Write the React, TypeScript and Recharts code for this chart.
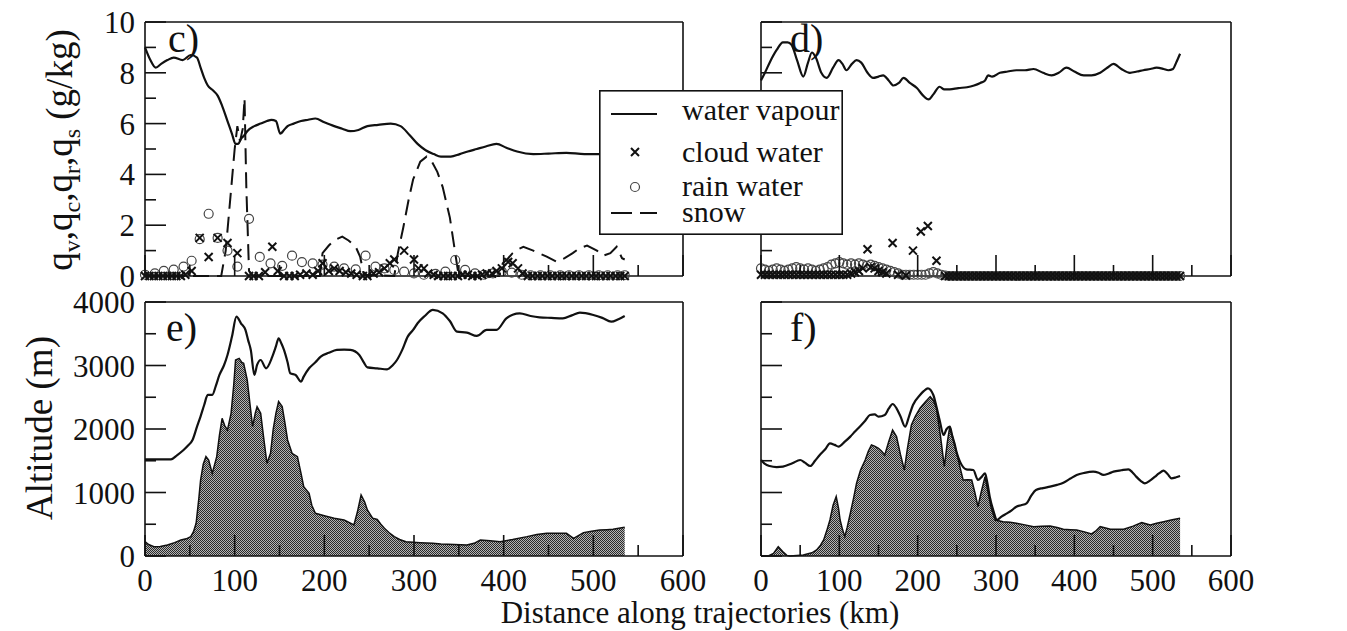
import React from 'react';
import { ComposedChart, Line, Area, Scatter, XAxis, YAxis, Legend } from 'recharts';

const INK = '#111';
const SERIF = '"Liberation Serif", "Times New Roman", Times, serif';

// tick values
const X_TICKS = [0, 50, 100, 150, 200, 250, 300, 350, 400, 450, 500, 550, 600];
const Q_TICKS = [0, 1, 2, 3, 4, 5, 6, 7, 8, 9, 10];
const ALT_TICKS = [0, 500, 1000, 1500, 2000, 2500, 3000, 3500, 4000];

// panel c) mixing ratios, [km, g/kg]
const vapourC = [
  [0, 9.0], [6, 8.5], [12, 8.2], [18, 8.35], [25, 8.5], [32, 8.6], [42, 8.5], [51, 8.7], [58, 8.6],
  [62, 8.2], [66, 7.8], [70, 7.5], [76, 7.3], [81, 7.1], [86, 6.7], [92, 6.1], [97, 5.6], [101, 5.2],
  [104, 5.2], [107, 5.4], [111, 5.55], [114, 5.7], [122, 5.9], [129, 6.0], [136, 6.1], [141, 6.15],
  [146, 6.1], [151, 5.6], [155, 5.75], [159, 5.9], [166, 6.0], [174, 6.1], [182, 6.15], [190, 6.2],
  [200, 6.05], [211, 5.9], [220, 5.8], [229, 5.7], [238, 5.75], [248, 5.9], [260, 5.95], [274, 6.0],
  [285, 5.9], [295, 5.55], [304, 5.2], [313, 4.95], [322, 4.8], [330, 4.7], [341, 4.7], [351, 4.8],
  [360, 4.9], [370, 5.0], [380, 5.1], [392, 5.2], [403, 5.05], [415, 4.9], [433, 4.8], [450, 4.82],
  [470, 4.85], [490, 4.8], [504, 4.8], [520, 4.8], [535, 4.75],
];
const snowC = [
  [0, 0], [85, 0], [90, 1], [95, 3], [100, 5], [103, 5.9], [106, 5.3], [109, 5.8], [111, 7], [113, 3.5],
  [116, 0.2], [120, 0], [195, 0], [198, 0.9], [205, 1.2], [211, 1.4], [220, 1.55], [227, 1.4],
  [235, 1.15], [240, 0.75], [244, 0.05], [278, 0], [282, 0.9], [288, 1.9], [294, 3.0], [299, 3.8],
  [307, 4.5], [314, 4.7], [320, 4.5], [326, 4.1], [332, 3.5], [340, 2.3], [346, 0.9], [349, 0.2],
  [352, 0], [395, 0], [399, 0.5], [405, 0.7], [410, 0.9], [416, 1.05], [422, 1.15], [433, 1.0],
  [448, 0.76], [459, 0.56], [468, 0.7], [477, 0.9], [485, 1.1], [493, 1.2], [504, 1.0], [511, 0.8],
  [519, 0.9], [526, 1.15], [532, 0.7], [535, 0.65],
];
const cloudC = [
  [0, 0], [5, 0], [10, 0], [15, 0], [20, 0], [25, 0], [30, 0], [35, 0], [40, 0], [45, 0.05], [52, 0.2],
  [61, 1.5], [71, 0.75], [81, 1.5], [92, 1.3], [103, 0.9], [116, 0], [121, 0], [127, 0], [134, 0.15],
  [142, 1.15], [148, 0.2], [155, 0], [161, 0], [167, 0], [173, 0.05], [180, 0.1], [187, 0.05],
  [193, 0.2], [198, 0.5], [205, 0.2], [211, 0.3], [217, 0.2], [224, 0.15], [230, 0.1], [236, 0.05],
  [243, 0], [248, 0], [255, 0.1], [261, 0.15], [267, 0.3], [273, 0.5], [278, 0.65], [289, 1.0],
  [300, 0.65], [305, 0.3], [311, 0.3], [316, 0.1], [322, 0.05], [327, 0], [333, 0], [338, 0], [343, 0],
  [349, 0], [354, 0.05], [360, 0.05], [365, 0], [371, 0], [376, 0.05], [381, 0.1], [387, 0.1],
  [392, 0.2], [398, 0.3], [405, 0.55], [410, 0.5], [416, 0.3], [421, 0.1], [427, 0], [432, 0],
  [438, 0], [443, 0], [449, 0], [454, 0], [460, 0], [465, 0], [470, 0], [476, 0], [481, 0], [487, 0],
  [492, 0], [498, 0], [503, 0], [508, 0], [514, 0], [519, 0], [525, 0], [530, 0], [535, 0],
];
const rainC = [
  [0, 0.05], [11, 0.1], [21, 0.2], [32, 0.25], [43, 0.37], [52, 0.6], [61, 1.45], [71, 2.45], [81, 1.5],
  [92, 1.0], [103, 0.37], [116, 2.25], [128, 0.75], [140, 0.5], [153, 0.4], [164, 0.8], [175, 0.55],
  [187, 0.5], [198, 0.45], [211, 0.37], [222, 0.3], [235, 0.26], [246, 0.8], [257, 0.37], [267, 0.3],
  [278, 0.24], [289, 0.17], [300, 0.1], [311, 0.05], [324, 0.08], [335, 0.17], [346, 0.63],
  [357, 0.24], [368, 0.1], [378, 0.05], [388, 0.1], [398, 0.17], [409, 0.13], [420, 0.05], [430, 0.03],
  [441, 0.03], [452, 0.03], [463, 0.03], [473, 0.03], [484, 0.03], [495, 0.03], [506, 0.03],
  [516, 0.03], [527, 0.03], [535, 0.03],
];

// panel d)
const vapourD = [
  [0, 7.7], [5, 8.0], [11, 8.4], [20, 8.9], [28, 9.2], [34, 9.2], [39, 9.1], [46, 8.5], [54, 7.85],
  [60, 8.4], [65, 8.8], [70, 8.6], [77, 8.0], [84, 7.8], [92, 8.2], [99, 8.5], [104, 8.35], [109, 8.1],
  [116, 8.35], [122, 8.5], [128, 8.4], [136, 8.0], [143, 7.8], [150, 7.85], [156, 7.9], [163, 7.7],
  [169, 7.5], [176, 7.6], [182, 7.8], [190, 7.6], [199, 7.4], [207, 7.1], [214, 6.95], [220, 7.15],
  [228, 7.45], [234, 7.35], [241, 7.35], [252, 7.4], [263, 7.43], [272, 7.5], [280, 7.6], [286, 7.7],
  [290, 7.9], [295, 7.85], [305, 8.0], [315, 8.05], [326, 8.1], [337, 8.1], [348, 8.15], [360, 8.0],
  [371, 7.9], [380, 8.0], [390, 8.2], [400, 8.05], [412, 7.9], [422, 7.9], [433, 8.0], [442, 8.2],
  [450, 8.35], [460, 8.15], [471, 8.0], [480, 8.05], [488, 8.1], [497, 8.15], [505, 8.2], [514, 8.15],
  [520, 8.1], [526, 8.15], [530, 8.4], [535, 8.75],
];
const cloudD = [
  [0, 0.05], [5, 0.05], [10, 0.05], [15, 0.05], [20, 0.05], [25, 0.05], [30, 0.05], [35, 0.05],
  [40, 0.05], [45, 0.05], [50, 0.05], [55, 0.05], [60, 0.05], [65, 0.05], [70, 0.05], [75, 0.05],
  [80, 0.05], [85, 0.05], [90, 0.05], [95, 0.05], [100, 0.05], [105, 0.05], [110, 0.05], [115, 0.1],
  [120, 0.15], [125, 0.2], [130, 0.3], [136, 1.05], [140, 0.35], [145, 0.3], [150, 0.2], [155, 0.15],
  [160, 0.1], [168, 1.3], [175, 0.05], [185, 0.02], [194, 1.0], [204, 1.75], [213, 1.97], [224, 0.6],
  [235, 0], [240, 0], [245, 0], [250, 0], [255, 0], [260, 0], [265, 0], [270, 0], [275, 0], [280, 0],
  [285, 0], [290, 0], [295, 0], [300, 0], [305, 0], [310, 0], [315, 0], [320, 0], [325, 0], [330, 0],
  [335, 0], [340, 0], [345, 0], [350, 0], [355, 0], [360, 0], [365, 0], [370, 0], [375, 0], [380, 0],
  [385, 0], [390, 0], [395, 0], [400, 0], [405, 0], [410, 0], [415, 0], [420, 0], [425, 0], [430, 0],
  [435, 0], [440, 0], [445, 0], [450, 0], [455, 0], [460, 0], [465, 0], [470, 0], [475, 0], [480, 0],
  [485, 0], [490, 0], [495, 0], [500, 0], [505, 0], [510, 0], [515, 0], [520, 0], [525, 0], [530, 0],
  [535, 0],
];
const rainD = [
  [0, 0.3], [5, 0.25], [10, 0.2], [15, 0.25], [20, 0.3], [25, 0.25], [30, 0.2], [35, 0.25], [40, 0.3],
  [45, 0.35], [50, 0.3], [55, 0.25], [60, 0.3], [65, 0.25], [70, 0.2], [75, 0.25], [80, 0.3],
  [85, 0.35], [90, 0.45], [95, 0.5], [100, 0.55], [105, 0.5], [110, 0.45], [115, 0.5], [120, 0.45],
  [125, 0.5], [130, 0.45], [135, 0.4], [140, 0.45], [145, 0.4], [150, 0.35], [155, 0.3], [160, 0.25],
  [165, 0.2], [170, 0.15], [175, 0.1], [180, 0.05], [185, 0.05], [190, 0.05], [195, 0.05], [200, 0.05],
  [205, 0.05], [210, 0.05], [215, 0.1], [220, 0.15], [225, 0.1], [230, 0.05], [235, 0.02], [240, 0],
  [245, 0], [250, 0], [255, 0], [260, 0], [265, 0], [270, 0], [275, 0], [280, 0], [285, 0], [290, 0],
  [295, 0], [300, 0], [305, 0], [310, 0], [315, 0], [320, 0], [325, 0], [330, 0], [335, 0], [340, 0],
  [345, 0], [350, 0], [355, 0], [360, 0], [365, 0], [370, 0], [375, 0], [380, 0], [385, 0], [390, 0],
  [395, 0], [400, 0], [405, 0], [410, 0], [415, 0], [420, 0], [425, 0], [430, 0], [435, 0], [440, 0],
  [445, 0], [450, 0], [455, 0], [460, 0], [465, 0], [470, 0], [475, 0], [480, 0], [485, 0], [490, 0],
  [495, 0], [500, 0], [505, 0], [510, 0], [515, 0], [520, 0], [525, 0], [530, 0], [535, 0],
];

// panel e) altitude, [km, m]
const trajE = [
  [0, 1522], [15, 1522], [29, 1522], [36, 1590], [43, 1670], [48, 1740], [53, 1827], [58, 2037],
  [62, 2200], [66, 2378], [70, 2536], [75, 2536], [79, 2680], [83, 2851], [88, 3000], [92, 3166],
  [97, 3455], [102, 3770], [107, 3665], [112, 3560], [115, 3400], [118, 3245], [122, 2851], [125, 3008],
  [129, 3087], [135, 2956], [142, 3140], [146, 3300], [149, 3428], [152, 3350], [155, 3245], [159, 3050],
  [162, 2877], [168, 2851], [174, 2746], [177, 2825], [183, 2956], [190, 3050], [196, 3140], [205, 3200],
  [214, 3245], [222, 3250], [229, 3245], [239, 3166], [244, 3050], [248, 2971], [259, 2956], [270, 2940],
  [276, 3000], [281, 3087], [287, 3250], [293, 3455], [299, 3560], [304, 3665], [312, 3780], [321, 3875],
  [332, 3822], [340, 3700], [348, 3533], [359, 3518], [370, 3465], [381, 3560], [392, 3560], [403, 3743],
  [410, 3800], [418, 3822], [430, 3780], [440, 3759], [453, 3750], [466, 3743], [476, 3790], [485, 3833],
  [500, 3796], [510, 3750], [520, 3690], [528, 3730], [535, 3780],
];
const terrainE = [
  [0, 226], [4, 180], [10, 147], [17, 150], [25, 173], [33, 210], [40, 252], [46, 270], [51, 305],
  [54, 380], [57, 515], [60, 900], [62, 1197], [65, 1450], [68, 1565], [71, 1512], [75, 1302], [80, 1565],
  [83, 1900], [86, 2168], [89, 2050], [92, 1985], [96, 2247], [99, 2700], [101, 3087], [105, 3113],
  [108, 3050], [110, 3035], [114, 2772], [117, 2400], [120, 2037], [123, 2250], [125, 2352], [129, 2247],
  [132, 1900], [136, 1460], [140, 1617], [143, 2000], [146, 2247], [149, 2431], [153, 2352], [156, 2100],
  [159, 1827], [164, 1617], [170, 1565], [174, 1300], [177, 1092], [183, 987], [186, 800], [190, 672],
  [201, 630], [211, 593], [222, 567], [233, 488], [237, 700], [241, 961], [245, 850], [248, 725],
  [254, 593], [259, 577], [263, 500], [267, 436], [272, 370], [278, 305], [284, 260], [291, 226],
  [307, 210], [321, 200], [330, 189], [345, 180], [359, 173], [367, 200], [374, 252], [385, 240],
  [396, 226], [410, 260], [426, 305], [437, 340], [448, 357], [460, 360], [470, 357], [478, 278],
  [489, 368], [498, 390], [507, 410], [515, 415], [522, 420], [530, 440], [535, 452],
];

// panel f)
const trajF = [
  [0, 1512], [5, 1450], [11, 1417], [20, 1400], [28, 1407], [40, 1460], [50, 1512], [56, 1470],
  [63, 1417], [69, 1500], [75, 1590], [82, 1680], [88, 1774], [94, 1750], [99, 1722], [107, 1800],
  [114, 1880], [120, 1960], [126, 2037], [133, 2130], [139, 2220], [145, 2230], [150, 2194], [158, 2220],
  [163, 2320], [168, 2394], [173, 2326], [178, 2200], [184, 2037], [189, 2200], [194, 2378], [203, 2536],
  [208, 2600], [213, 2641], [220, 2536], [224, 2350], [228, 2142], [233, 1906], [237, 2000], [241, 2037],
  [244, 1900], [247, 1774], [250, 1620], [254, 1486], [262, 1365], [271, 1355], [277, 1197], [282, 1250],
  [286, 1302], [289, 1150], [292, 935], [297, 700], [301, 567], [307, 620], [314, 672], [320, 720],
  [326, 777], [332, 800], [339, 830], [345, 950], [351, 1040], [360, 1070], [369, 1092], [378, 1120],
  [386, 1155], [395, 1220], [403, 1276], [413, 1310], [424, 1328], [431, 1310], [437, 1276], [444, 1300],
  [450, 1328], [460, 1350], [469, 1365], [474, 1320], [479, 1250], [485, 1180], [490, 1145], [497, 1190],
  [503, 1250], [508, 1300], [514, 1344], [519, 1290], [524, 1223], [530, 1240], [535, 1260],
];
const terrainF = [
  [0, 0], [10, 5], [16, 42], [22, 147], [28, 68], [33, 10], [37, 0], [54, 16], [65, 50], [71, 95],
  [76, 170], [80, 252], [84, 400], [88, 567], [92, 800], [96, 935], [99, 750], [101, 567], [104, 420],
  [107, 305], [110, 450], [114, 672], [118, 900], [122, 1145], [127, 1350], [133, 1512], [137, 1650],
  [141, 1748], [145, 1730], [150, 1696], [154, 1650], [158, 1590], [163, 1800], [168, 1985], [173, 1880],
  [178, 1600], [183, 1355], [187, 1700], [192, 2063], [197, 2200], [203, 2326], [210, 2430], [216, 2510],
  [220, 2450], [224, 2326], [229, 1900], [234, 1407], [238, 1800], [241, 2037], [245, 1850], [250, 1617],
  [254, 1400], [258, 1197], [264, 1200], [269, 1197], [273, 1000], [277, 777], [281, 1000], [286, 1250],
  [290, 1000], [294, 750], [299, 567], [309, 541], [318, 530], [326, 515], [337, 490], [348, 462],
  [358, 470], [369, 473], [378, 450], [386, 420], [395, 415], [403, 410], [413, 380], [422, 347],
  [428, 400], [433, 462], [440, 440], [446, 420], [455, 420], [463, 420], [475, 470], [486, 525],
  [497, 488], [505, 515], [514, 541], [525, 570], [535, 593],
];

const LEGEND_ITEMS = [
  { name: 'water vapour', mark: 'solid' },
  { name: 'cloud water', mark: 'cross' },
  { name: 'rain water', mark: 'ring' },
  { name: 'snow', mark: 'dash' },
];

const rows = (pairs: number[][]) => pairs.map(([km, v]) => ({ km, v }));

const AXIS_LINE = { stroke: INK, strokeWidth: 1.6 };
const MAJOR = 21;
const MINOR = 11;

// ticks point inward on all four sides, labels only where asked
const makeTick = (side: string, step: number, labels: boolean) => (p: any) => {
  const { x, y, payload } = p;
  const v = payload.value;
  const major = v % step === 0;
  const len = major ? MAJOR : MINOR;
  let d = '';
  if (side === 'bottom') d = `M${x},${y}V${y - len}`;
  else if (side === 'top') d = `M${x},${y}V${y + len}`;
  else if (side === 'left') d = `M${x},${y}H${x + len}`;
  else d = `M${x},${y}H${x - len}`;
  return (
    <g>
      <path d={d} stroke={INK} strokeWidth={1.6} fill="none" />
      {labels && major && side === 'bottom' && (
        <text x={x} y={y + 35} textAnchor="middle" fontSize={31} fontFamily={SERIF} fill={INK}>{v}</text>
      )}
      {labels && major && side === 'left' && (
        <text x={x - 10} y={y + 11} textAnchor="end" fontSize={31} fontFamily={SERIF} fill={INK}>{v}</text>
      )}
    </g>
  );
};

const Cross = (p: any) => {
  const { cx, cy } = p;
  const s = 4;
  return <path d={`M${cx - s},${cy - s}L${cx + s},${cy + s}M${cx - s},${cy + s}L${cx + s},${cy - s}`} stroke={INK} strokeWidth={2} fill="none" />;
};
const Ring = (p: any) => <circle cx={p.cx} cy={p.cy} r={4.5} fill="none" stroke="#444" strokeWidth={1.2} />;

function LegendBox() {
  const ys = [24, 62, 97, 123];
  const bases = [30, 72, 106, 132];
  return (
    <svg width={244} height={145} style={{ display: 'block' }}>
      <rect x={0.8} y={0.8} width={242.4} height={143.4} fill="#fff" stroke={INK} strokeWidth={1.6} />
      {LEGEND_ITEMS.map((it, i) => (
        <g key={it.name}>
          {it.mark === 'solid' && <line x1={12} x2={58} y1={ys[i]} y2={ys[i]} stroke={INK} strokeWidth={2} />}
          {it.mark === 'dash' && <line x1={12} x2={58} y1={ys[i]} y2={ys[i]} stroke={INK} strokeWidth={2} strokeDasharray="21 8" />}
          {it.mark === 'cross' && <Cross cx={36} cy={ys[i]} />}
          {it.mark === 'ring' && <Ring cx={36} cy={ys[i]} />}
          <text x={83} y={bases[i]} fontSize={30} fontFamily={SERIF} fill={INK}>{it.name}</text>
        </g>
      ))}
    </svg>
  );
}

type PanelProps = {
  width: number;
  height: number;
  margin: { top: number; right: number; bottom: number; left: number };
  yTicks: number[];
  yDomain: [number, number];
  yStep: number;
  yLabels: boolean;
  xLabels: boolean;
  children: React.ReactNode;
};

function Panel({ width, height, margin, yTicks, yDomain, yStep, yLabels, xLabels, children }: PanelProps) {
  return (
    <ComposedChart width={width} height={height} margin={margin}>
      <defs>
        <pattern id="stipple" width={2} height={2} patternUnits="userSpaceOnUse">
          <rect width={2} height={2} fill="#b4b4b4" />
          <rect width={1} height={1} fill="#2a2a2a" />
          <rect x={1} y={1} width={1} height={1} fill="#2a2a2a" />
        </pattern>
      </defs>
      <XAxis xAxisId="b" dataKey="km" type="number" domain={[0, 600]} ticks={X_TICKS} interval={0}
        height={1} tickSize={0} tickMargin={0} tickLine={false} axisLine={AXIS_LINE}
        tick={makeTick('bottom', 100, xLabels)} />
      <XAxis xAxisId="t" orientation="top" dataKey="km" type="number" domain={[0, 600]} ticks={X_TICKS} interval={0}
        height={1} tickSize={0} tickMargin={0} tickLine={false} axisLine={AXIS_LINE}
        tick={makeTick('top', 100, false)} />
      <YAxis yAxisId="l" type="number" domain={yDomain} ticks={yTicks} interval={0}
        width={yLabels ? 145 : 1} tickSize={0} tickMargin={0} tickLine={false} axisLine={AXIS_LINE}
        tick={makeTick('left', yStep, yLabels)} />
      <YAxis yAxisId="r" orientation="right" type="number" domain={yDomain} ticks={yTicks} interval={0}
        width={1} tickSize={0} tickMargin={0} tickLine={false} axisLine={AXIS_LINE}
        tick={makeTick('right', yStep, false)} />
      {children}
    </ComposedChart>
  );
}

const panelLabel = (x: number, y: number, s: string) => (
  <text x={x} y={y} fontSize={40} fontFamily={SERIF} fill={INK}>{s}</text>
);

export default function App() {
  const topM = { top: 21, right: 16, bottom: 23, left: 0 };
  const topMR = { top: 21, right: 115, bottom: 23, left: 60 };
  const botM = { top: 11, right: 46, bottom: 74, left: 0 };
  const botMR = { top: 11, right: 115, bottom: 74, left: 60 };
  const ax = { xAxisId: 'b', yAxisId: 'l' };
  return (
    <div style={{ position: 'absolute', left: 0, top: 0, width: 1347, height: 631, background: '#fff', overflow: 'hidden' }}>
      <div style={{ position: 'absolute', left: 0, top: 0 }}>
        <Panel width={700} height={300} margin={topM} yTicks={Q_TICKS} yDomain={[0, 10]} yStep={2} yLabels xLabels={false}>
          <text transform="translate(72,150) rotate(-90)" textAnchor="middle" fontSize={37} fontFamily={SERIF} fill={INK}>
            q<tspan fontSize={24} dy={8}>v</tspan><tspan dy={-8}>,q</tspan><tspan fontSize={24} dy={8}>c</tspan><tspan dy={-8}>,q</tspan><tspan fontSize={24} dy={8}>r</tspan><tspan dy={-8}>,q</tspan><tspan fontSize={24} dy={8}>s</tspan><tspan dy={-8}> (g/kg)</tspan>
          </text>
          {panelLabel(168, 52, 'c)')}
          <Line {...ax} data={rows(vapourC)} dataKey="v" type="monotone" stroke={INK} strokeWidth={2.2} dot={false} isAnimationActive={false} />
          <Line {...ax} data={rows(snowC)} dataKey="v" type="linear" stroke={INK} strokeWidth={2} strokeDasharray="16 8" dot={false} isAnimationActive={false} />
          <Scatter {...ax} data={rows(rainC)} dataKey="v" shape={Ring} isAnimationActive={false} />
          <Scatter {...ax} data={rows(cloudC)} dataKey="v" shape={Cross} isAnimationActive={false} />
          <Legend layout="vertical" align="center" verticalAlign="middle" content={() => <LegendBox />}
            wrapperStyle={{ position: 'absolute', left: 599, top: 90, width: 244, height: 145, zIndex: 5 }} />
        </Panel>
      </div>
      <div style={{ position: 'absolute', left: 700, top: 0 }}>
        <Panel width={647} height={300} margin={topMR} yTicks={Q_TICKS} yDomain={[0, 10]} yStep={2} yLabels={false} xLabels={false}>
          {panelLabel(90, 52, 'd)')}
          <Line {...ax} data={rows(vapourD)} dataKey="v" type="monotone" stroke={INK} strokeWidth={2.2} dot={false} isAnimationActive={false} />
          <Scatter {...ax} data={rows(rainD)} dataKey="v" shape={Ring} isAnimationActive={false} />
          <Scatter {...ax} data={rows(cloudD)} dataKey="v" shape={Cross} isAnimationActive={false} />
        </Panel>
      </div>
      <div style={{ position: 'absolute', left: 0, top: 290 }}>
        <Panel width={730} height={341} margin={botM} yTicks={ALT_TICKS} yDomain={[0, 4000]} yStep={1000} yLabels xLabels>
          <text transform="translate(52,138) rotate(-90)" textAnchor="middle" fontSize={37} fontFamily={SERIF} fill={INK}>Altitude (m)</text>
          {panelLabel(166, 51, 'e)')}
          <Area {...ax} data={rows(terrainE)} dataKey="v" type="linear" stroke={INK} strokeWidth={1.5} fill="url(#stipple)" fillOpacity={1} isAnimationActive={false} />
          <Line {...ax} data={rows(trajE)} dataKey="v" type="monotone" stroke={INK} strokeWidth={2.2} dot={false} isAnimationActive={false} />
        </Panel>
      </div>
      <div style={{ position: 'absolute', left: 700, top: 290 }}>
        <Panel width={647} height={341} margin={botMR} yTicks={ALT_TICKS} yDomain={[0, 4000]} yStep={1000} yLabels={false} xLabels>
          {panelLabel(90, 51, 'f)')}
          <Area {...ax} data={rows(terrainF)} dataKey="v" type="linear" stroke={INK} strokeWidth={1.5} fill="url(#stipple)" fillOpacity={1} isAnimationActive={false} />
          <Line {...ax} data={rows(trajF)} dataKey="v" type="monotone" stroke={INK} strokeWidth={2.2} dot={false} isAnimationActive={false} />
        </Panel>
      </div>
      <div style={{ position: 'absolute', left: 400, top: 597, width: 600, textAlign: 'center', fontFamily: SERIF, fontSize: 31, lineHeight: '31px', color: INK }}>
        Distance along trajectories (km)
      </div>
    </div>
  );
}
